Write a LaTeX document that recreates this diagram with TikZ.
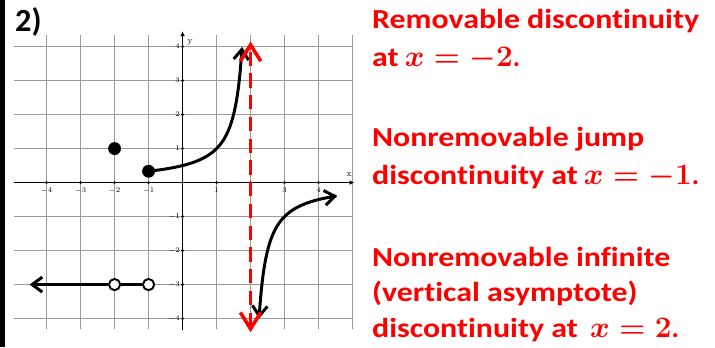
\documentclass[tikz,border=0pt]{standalone}
\usepackage{amsmath}
\usepackage{graphicx}
\usepackage{fontspec}
\newfontfamily\calibri[Ligatures=NoCommon]{Carlito}
\usepackage{tikz}
\usetikzlibrary{positioning, arrows.meta}
\definecolor{gridgray}{HTML}{9A9A9A}
\definecolor{answerred}{HTML}{FF0000}
\tikzset{
  gridline/.style={gridgray, line width=0.6pt},
  axisline/.style={black, line width=1.4pt},
  graphline/.style={black, line width=2.5pt},
  barb/.style={-{Straight Barb[length=3mm, width=4.4mm]}},
  twobarb/.style={{Straight Barb[length=3mm, width=4.4mm]}-{Straight Barb[length=3mm, width=4.4mm]}},
  asymptote/.style={
    answerred, line width=3pt, dash pattern=on 4.2mm off 2.2mm,
    {Straight Barb[length=4.8mm, width=6mm]}-{Straight Barb[length=4.8mm, width=6mm]}
  },
  soliddot/.style={circle, fill=black, inner sep=0pt, minimum size=3.8mm},
  opendot/.style={circle, draw=black, fill=white, line width=1.6pt, inner sep=0pt, minimum size=3.3mm},
  ticklabel/.style={font=\fontsize{6.5}{7}\selectfont, inner sep=1pt},
  axislabel/.style={font=\fontsize{7.5}{8}\selectfont, inner sep=0pt},
  answer/.style={answerred, anchor=base west, inner sep=0pt,
    font=\calibri\bfseries\boldmath\fontsize{23}{27}\selectfont}
}
\newcommand{\wideline}[1]{\scalebox{1.16}[1]{#1}}

\begin{document}
\begin{tikzpicture}
\useasboundingbox (-5.37,-4.84) rectangle (15.66,5.37);

% Page edge bar and problem number
\fill[black] (-5.37,-4.84) rectangle (-5.22,5.37);
\node[anchor=base west, inner sep=0pt, font=\calibri\bfseries\fontsize{27}{30}\selectfont]
  (num) at (-4.93,4.44) {2)};

% Grid
\foreach \i in {-4,...,5} {
  \draw[gridline] (\i,-4.3) -- (\i,4.35);
}
\foreach \j in {-4,...,4} {
  \draw[gridline] (-4.95,\j) -- (5,\j);
}

% Axes
\draw[axisline, -{Latex[length=1.4mm, width=1.4mm]}] (-4.95,0) -- (5.05,0);
\draw[axisline, -{Latex[length=1.4mm, width=1.4mm]}] (0,-4.35) -- (0,4.45);
\node[axislabel] (xlab) at (4.9,0.24) {x};
\node[axislabel] (ylab) at (0.22,4.12) {y};
\foreach \i in {-4,-3,-2,-1,1,2,3,4} {
  \fill (\i,0) circle (1.3pt);
  \node[ticklabel, anchor=north] at (\i,-0.12) {$\i$};
  \fill (0,\i) circle (1.3pt);
  \node[ticklabel, anchor=east] at (-0.04,\i) {$\i$};
}

% Points
\node[soliddot] (pa) at (-2,1) {};
\node[soliddot] (pb) at (-1,0.333) {};
\node[opendot] (qa) at (-2,-3) {};
\node[opendot] (qb) at (-1,-3) {};
\coordinate (qleft) at (-4.5,-3);

% Pieces of the graph
\draw[graphline, barb] (qa) -- (qleft);
\draw[graphline] (qa) -- (qb);
\draw[graphline, barb] plot[domain=-1:1.75, samples=60, smooth] (\x, {1/(2-\x)});
\draw[graphline, twobarb] plot[domain=2.25:4.55, samples=60, smooth] (\x, {1/(2-\x)});

% Vertical asymptote
\coordinate (vtop) at (2,4.15);
\coordinate (vbot) at (2,-4.4);
\draw[asymptote] (vbot) -- (vtop);

% Answers
\node[answer] (r1) at (5.57,4.54) {\wideline{Removable discontinuity}};
\node[answer] (r2) at (5.57,3.41) {\wideline{at} $x=-2$.};
\node[answer] (j1) at (5.57,1.05) {\wideline{Nonremovable jump}};
\node[answer] (j2) at (5.57,-0.07) {\wideline{discontinuity at} $x=-1$.};
\node[answer] (i1) at (5.57,-2.48) {\wideline{Nonremovable infinite}};
\node[answer] (i2) at (5.57,-3.51) {\wideline{(vertical asymptote)}};
\node[answer] (i3) at (5.57,-4.57) {\wideline{discontinuity at} \ $x=2$.};
\end{tikzpicture}
\end{document}
